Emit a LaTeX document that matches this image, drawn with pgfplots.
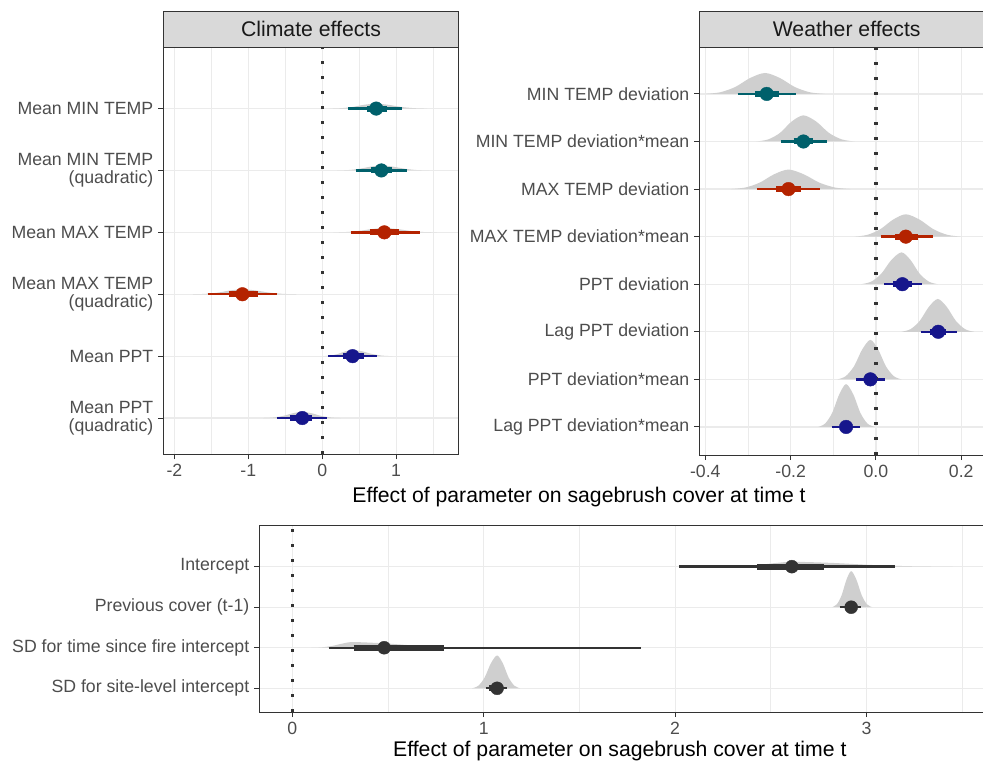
\documentclass[border=0pt]{standalone}
\usepackage{fontspec}
\setmainfont{Liberation Sans}
\usepackage{pgfplots}
\pgfplotsset{compat=1.18}

\definecolor{tealc}{HTML}{00606B}
\definecolor{redc}{HTML}{B42300}
\definecolor{navyc}{HTML}{16168C}
\definecolor{darkc}{HTML}{333333}
\definecolor{densc}{HTML}{CFCFCF}
\definecolor{gridc}{HTML}{EBEBEB}
\definecolor{axc}{HTML}{333333}
\definecolor{labc}{HTML}{4D4D4D}
\definecolor{stripc}{HTML}{D9D9D9}

\newcommand\tickfont{\fontsize{17.7}{18.5}\selectfont}
\newcommand\titlefont{\fontsize{21.2}{24}\selectfont}

\pgfplotsset{
  panel/.style={
    scale only axis,
    axis line style={draw=axc, line width=0.9pt},
    tick align=outside,
    xtick pos=bottom, ytick pos=left,
    major tick length=5pt, minor tick length=0pt,
    tick style={draw=axc, line width=0.9pt},
    xmajorgrids, xminorgrids, ymajorgrids,
    major grid style={draw=gridc, line width=1.2pt},
    minor grid style={draw=gridc, line width=0.7pt},
    ticklabel style={font=\tickfont, text=labc},
    yticklabel style={xshift=-1.5pt},
    xticklabel style={yshift=-1.5pt},
    /pgf/number format/assume math mode=true,
  },
  dens/.style={fill=densc, draw=none, smooth, forget plot},
  thin/.style={line width=2.4pt},
  thick/.style={line width=6pt},
  pt/.style={only marks, mark=*, mark size=6.8pt},
  zero/.style={draw=darkc, line width=3.3pt, dash pattern=on 3.3pt off 11.7pt},
}

\begin{document}
\begin{tikzpicture}
\useasboundingbox (0pt,-764pt) rectangle (983pt,0pt);
\clip (0pt,-764pt) rectangle (983pt,0pt);

% ---------- Climate effects ----------
\begin{axis}[panel, name=clim,
  at={(163.3pt,-47.3pt)}, anchor=north west,
  width=295.4pt, height=407pt,
  xmin=-2.15, xmax=1.846, ymin=0.414, ymax=6.99,
  xtick={-2,-1,0,1}, xticklabels={-2,-1,0,1},
  minor xtick={-1.5,-0.5,0.5,1.5},
  ytick={1,2,3,4,5,6},
  yticklabels={{Mean PPT\\(quadratic)},{Mean PPT},{Mean MAX TEMP\\(quadratic)},{Mean MAX TEMP},{Mean MIN TEMP\\(quadratic)},{Mean MIN TEMP}},
  yticklabel style={align=right},
]
\addplot[dens] coordinates {(0.10,6) (0.255,6.0064) (0.41,6.026) (0.565,6.061) (0.72,6.08) (0.895,6.061) (1.07,6.026) (1.245,6.0064) (1.42,6)};
\addplot[dens] coordinates {(0.20,5) (0.35,5.0064) (0.50,5.026) (0.65,5.061) (0.80,5.08) (0.9625,5.061) (1.125,5.026) (1.2875,5.0064) (1.45,5)};
\addplot[dens] coordinates {(0.15,4) (0.3225,4.0056) (0.495,4.023) (0.6675,4.053) (0.84,4.07) (1.0175,4.053) (1.195,4.023) (1.3725,4.0056) (1.55,4)};
\addplot[dens] coordinates {(-1.75,3) (-1.5825,3.0064) (-1.415,3.026) (-1.2475,3.061) (-1.08,3.08) (-0.8975,3.061) (-0.715,3.026) (-0.5325,3.0064) (-0.35,3)};
\addplot[dens] coordinates {(0,2) (0.1025,2.008) (0.205,2.033) (0.3075,2.076) (0.41,2.1) (0.545,2.076) (0.68,2.033) (0.815,2.008) (0.95,2)};
\addplot[dens] coordinates {(-0.80,1) (-0.6675,1.008) (-0.535,1.033) (-0.4025,1.076) (-0.27,1.1) (-0.14,1.076) (-0.01,1.033) (0.12,1.008) (0.25,1)};
% intervals
\addplot[thin, tealc] coordinates {(0.35,6) (1.08,6)};
\addplot[thick, tealc] coordinates {(0.61,6) (0.88,6)};
\addplot[pt, tealc] coordinates {(0.73,6)};
\addplot[thin, tealc] coordinates {(0.45,5) (1.15,5)};
\addplot[thick, tealc] coordinates {(0.66,5) (0.95,5)};
\addplot[pt, tealc] coordinates {(0.80,5)};
\addplot[thin, redc] coordinates {(0.39,4) (1.32,4)};
\addplot[thick, redc] coordinates {(0.65,4) (1.04,4)};
\addplot[pt, redc] coordinates {(0.84,4)};
\addplot[thin, redc] coordinates {(-1.55,3) (-0.61,3)};
\addplot[thick, redc] coordinates {(-1.26,3) (-0.87,3)};
\addplot[pt, redc] coordinates {(-1.08,3)};
\addplot[thin, navyc] coordinates {(0.08,2) (0.74,2)};
\addplot[thick, navyc] coordinates {(0.28,2) (0.56,2)};
\addplot[pt, navyc] coordinates {(0.41,2)};
\addplot[thin, navyc] coordinates {(-0.61,1) (0.06,1)};
\addplot[thick, navyc] coordinates {(-0.43,1) (-0.14,1)};
\addplot[pt, navyc] coordinates {(-0.27,1)};
\addplot[zero] coordinates {(0,0.414) (0,6.99)};
\end{axis}

% ---------- Weather effects ----------
\begin{axis}[panel, name=weat,
  at={(699.3pt,-47.3pt)}, anchor=north west,
  width=294.7pt, height=407.7pt,
  xmin=-0.414, xmax=0.2767, ymin=0.41, ymax=8.98,
  xtick={-0.4,-0.2,0,0.2}, xticklabels={-0.4,-0.2,0.0,0.2},
  minor xtick={-0.3,-0.1,0.1},
  ytick={1,2,3,4,5,6,7,8},
  yticklabels={{Lag PPT deviation*mean},{PPT deviation*mean},{Lag PPT deviation},{PPT deviation},{MAX TEMP deviation*mean},{MAX TEMP deviation},{MIN TEMP deviation*mean},{MIN TEMP deviation}},
]
\addplot[dens] coordinates {(-0.40,8) (-0.365,8.035) (-0.33,8.145) (-0.295,8.334) (-0.26,8.44) (-0.225,8.334) (-0.19,8.145) (-0.155,8.035) (-0.12,8)};
\addplot[dens] coordinates {(-0.28,7) (-0.2525,7.044) (-0.225,7.18) (-0.1975,7.42) (-0.17,7.55) (-0.14,7.42) (-0.11,7.18) (-0.08,7.044) (-0.05,7)};
\addplot[dens] coordinates {(-0.34,6) (-0.306,6.033) (-0.2725,6.135) (-0.239,6.31) (-0.205,6.41) (-0.169,6.31) (-0.1325,6.135) (-0.096,6.033) (-0.06,6)};
\addplot[dens] coordinates {(-0.05,5) (-0.02,5.038) (0.01,5.155) (0.04,5.357) (0.07,5.47) (0.1025,5.357) (0.135,5.155) (0.1675,5.038) (0.20,5)};
\addplot[dens] coordinates {(-0.035,4) (-0.011,4.054) (0.0125,4.221) (0.036,4.509) (0.06,4.67) (0.081,4.509) (0.1025,4.221) (0.124,4.054) (0.145,4)};
\addplot[dens] coordinates {(0.06,3) (0.081,3.055) (0.1025,3.228) (0.124,3.524) (0.145,3.69) (0.166,3.524) (0.1875,3.228) (0.209,3.055) (0.23,3)};
\addplot[dens] coordinates {(-0.09,2) (-0.071,2.066) (-0.0515,2.274) (-0.032,2.631) (-0.013,2.83) (0.005,2.631) (0.0235,2.274) (0.042,2.066) (0.06,2)};
\addplot[dens] coordinates {(-0.135,1) (-0.119,1.072) (-0.1025,1.297) (-0.086,1.684) (-0.07,1.9) (-0.053,1.684) (-0.0365,1.297) (-0.02,1.072) (-0.003,1)};
% intervals
\addplot[thin, tealc] coordinates {(-0.324,8) (-0.188,8)};
\addplot[thick, tealc] coordinates {(-0.283,8) (-0.228,8)};
\addplot[pt, tealc] coordinates {(-0.256,8)};
\addplot[thin, tealc] coordinates {(-0.223,7) (-0.115,7)};
\addplot[thick, tealc] coordinates {(-0.193,7) (-0.147,7)};
\addplot[pt, tealc] coordinates {(-0.170,7)};
\addplot[thin, redc] coordinates {(-0.279,6) (-0.131,6)};
\addplot[thick, redc] coordinates {(-0.234,6) (-0.176,6)};
\addplot[pt, redc] coordinates {(-0.205,6)};
\addplot[thin, redc] coordinates {(0.011,5) (0.133,5)};
\addplot[thick, redc] coordinates {(0.045,5) (0.099,5)};
\addplot[pt, redc] coordinates {(0.070,5)};
\addplot[thin, navyc] coordinates {(0.019,4) (0.107,4)};
\addplot[thick, navyc] coordinates {(0.041,4) (0.084,4)};
\addplot[pt, navyc] coordinates {(0.062,4)};
\addplot[thin, navyc] coordinates {(0.105,3) (0.189,3)};
\addplot[thick, navyc] coordinates {(0.126,3) (0.165,3)};
\addplot[pt, navyc] coordinates {(0.146,3)};
\addplot[thin, navyc] coordinates {(-0.047,2) (0.021,2)};
\addplot[thick, navyc] coordinates {(-0.026,2) (0.002,2)};
\addplot[pt, navyc] coordinates {(-0.013,2)};
\addplot[thin, navyc] coordinates {(-0.104,1) (-0.037,1)};
\addplot[thick, navyc] coordinates {(-0.084,1) (-0.055,1)};
\addplot[pt, navyc] coordinates {(-0.070,1)};
\addplot[zero] coordinates {(0,0.41) (0,8.98)};
\end{axis}

% ---------- Other parameters ----------
\begin{axis}[panel, name=oth,
  at={(259.3pt,-525.7pt)}, anchor=north west,
  width=760pt, height=186.3pt,
  xmin=-0.1724, xmax=3.7983, ymin=0.415, ymax=5.01,
  xtick={0,1,2,3}, xticklabels={0,1,2,3},
  minor xtick={0.5,1.5,2.5,3.5},
  ytick={1,2,3,4},
  yticklabels={{SD for site-level intercept},{SD for time since fire intercept},{Previous cover (t-1)},{Intercept}},
]
\addplot[dens] coordinates {(2.25,4) (2.3425,4.0096) (2.435,4.04) (2.5275,4.091) (2.62,4.12) (2.8275,4.091) (3.035,4.04) (3.2425,4.0096) (3.45,4)};
\addplot[dens] coordinates {(2.82,3) (2.845,3.071) (2.87,3.294) (2.895,3.676) (2.92,3.89) (2.9475,3.676) (2.975,3.294) (3.0025,3.071) (3.03,3)};
\addplot[dens] coordinates {(0.10,2) (0.155,2.011) (0.21,2.046) (0.265,2.106) (0.32,2.14) (0.49,2.106) (0.66,2.046) (0.83,2.011) (1.0,2)};
\addplot[dens] coordinates {(0.94,1) (0.9725,1.065) (1.005,1.267) (1.0375,1.616) (1.07,1.81) (1.10,1.616) (1.13,1.267) (1.16,1.065) (1.19,1)};
\addplot[thin, darkc] coordinates {(2.02,4) (3.15,4)};
\addplot[thick, darkc] coordinates {(2.43,4) (2.78,4)};
\addplot[pt, darkc, mark size=6.5pt] coordinates {(2.61,4)};
\addplot[thin, darkc] coordinates {(2.86,3) (2.97,3)};
\addplot[thick, darkc] coordinates {(2.89,3) (2.95,3)};
\addplot[pt, darkc, mark size=6.5pt] coordinates {(2.92,3)};
\addplot[thin, darkc] coordinates {(0.19,2) (1.82,2)};
\addplot[thick, darkc] coordinates {(0.32,2) (0.79,2)};
\addplot[pt, darkc, mark size=6.5pt] coordinates {(0.48,2)};
\addplot[thin, darkc] coordinates {(1.01,1) (1.12,1)};
\addplot[thick, darkc] coordinates {(1.03,1) (1.10,1)};
\addplot[pt, darkc, mark size=6.5pt] coordinates {(1.07,1)};
\addplot[zero] coordinates {(0,0.415) (0,5.01)};
\end{axis}

% strips
\draw[fill=stripc, draw=axc, line width=0.9pt] (163.3pt,-47.3pt) rectangle (458.7pt,-11.7pt);
\node[anchor=base, font=\titlefont, text=black!90, inner sep=0pt] at (311pt,-36pt) {Climate effects};
\draw[fill=stripc, draw=axc, line width=0.9pt] (699.3pt,-47.3pt) rectangle (994pt,-11.7pt);
\node[anchor=base, font=\titlefont, text=black!90, inner sep=0pt] at (846.7pt,-36pt) {Weather effects};

% axis titles
\node[anchor=base, font=\titlefont, inner sep=0pt] at (579pt,-502pt) {Effect of parameter on sagebrush cover at time t};
\node[anchor=base west, font=\titlefont, inner sep=0pt] at (393pt,-756.5pt) {Effect of parameter on sagebrush cover at time t};
\end{tikzpicture}
\end{document}
